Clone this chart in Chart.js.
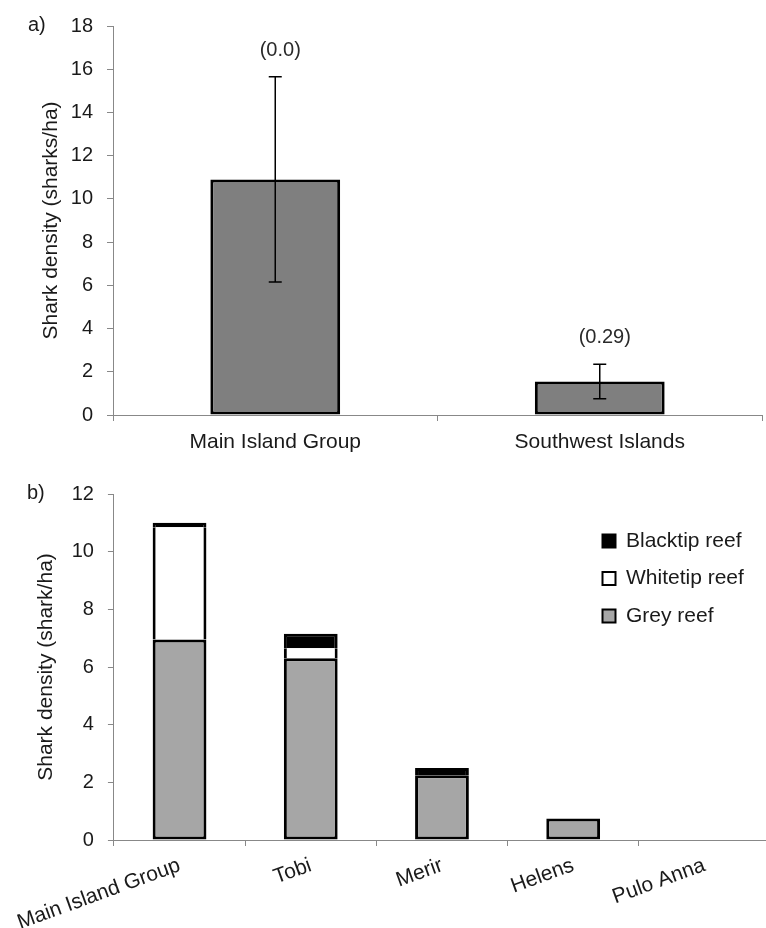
<!DOCTYPE html>
<html>
<head>
<meta charset="utf-8">
<script src="https://cdn.jsdelivr.net/npm/chart.js@4.4.1/dist/chart.umd.min.js"></script>
<style>
  html, body { margin: 0; padding: 0; background: #fff; overflow: hidden; }
  body { width: 766px; height: 928px; position: relative; font-family: "Liberation Sans", Arial, sans-serif; }
  canvas { position: absolute; left: 0; }
  #chartA { top: 0; }
  #chartB { top: 460px; }
  .panel { position: absolute; font-size: 20px; line-height: 20px; color: #1a1a1a; }
</style>
</head>
<body>
<canvas id="chartA" width="766" height="460"></canvas>
<canvas id="chartB" width="772" height="468"></canvas>
<div class="panel" style="left:28px; top:14px;">a)</div>
<div class="panel" style="left:27px; top:482px;">b)</div>
<script>
// panel a) - mean density per region, with error and the note above each bar
const regions = ["Main Island Group", "Southwest Islands"];
const regionDensity = [10.9, 1.55];
const regionError = [4.75, 0.8];
const regionNotes = ["(0.0)", "(0.29)"];
const ticksA = [0, 2, 4, 6, 8, 10, 12, 14, 16, 18];

// panel b) - density per site, split by species
const sites = ["Main Island Group", "Tobi", "Merir", "Helens", "Pulo Anna"];
const greyReef = [6.95, 6.3, 2.25, 0.75, 0];
const whitetipReef = [3.9, 0.35, 0, 0, 0];
const blacktipReef = [0.15, 0.5, 0.25, 0, 0];
const ticksB = [0, 2, 4, 6, 8, 10, 12];

Chart.defaults.font.family = '"Liberation Sans", Arial, sans-serif';
Chart.defaults.color = '#1a1a1a';

var axisGrey = '#888';

// error bars and the numbers above them
const errorBars = {
    id: 'errorBars',
    afterDatasetsDraw(chart) {
        const ctx = chart.ctx;
        const y = chart.scales.y;
        const meta = chart.getDatasetMeta(0);
        const cap = 6.5;
        ctx.save();
        ctx.strokeStyle = '#000';
        ctx.lineWidth = 1.5;
        ctx.fillStyle = '#2a2a2a';
        ctx.font = '20px "Liberation Sans", Arial, sans-serif';
        ctx.textAlign = 'center';
        meta.data.forEach((bar, i) => {
            const top = y.getPixelForValue(regionDensity[i] + regionError[i]);
            const bottom = y.getPixelForValue(regionDensity[i] - regionError[i]);
            ctx.beginPath();
            ctx.moveTo(bar.x, top); ctx.lineTo(bar.x, bottom);
            ctx.moveTo(bar.x - cap, top); ctx.lineTo(bar.x + cap, top);
            ctx.moveTo(bar.x - cap, bottom); ctx.lineTo(bar.x + cap, bottom);
            ctx.stroke();
            ctx.fillText(regionNotes[i], bar.x + 5, top - 21);
        });
        ctx.restore();
    }
};

// move the legend box to the upper right of the plot
const legendSpot = {
    id: 'legendSpot',
    afterLayout(chart) {
        const lg = chart.legend;
        const area = chart.chartArea;
        lg.left = area.right - 184;
        lg.right = lg.left + lg.width;
        lg.top = area.top + 20;
        lg.bottom = lg.top + lg.height;
    }
};

function yAxis(ticks, title, titlePad) {
    return {
        min: ticks[0],
        max: ticks[ticks.length - 1],
        afterBuildTicks: s => { s.ticks = ticks.map(v => ({ value: v })); },
        grid: { drawOnChartArea: false, tickLength: 6, color: axisGrey },
        border: { color: axisGrey },
        ticks: { font: { size: 20 }, padding: 14 },
        title: { display: true, text: title, font: { size: 21 }, padding: { top: titlePad, bottom: 0 } },
        afterFit: s => { s.width = 113; }
    };
}

new Chart(document.getElementById('chartA'), {
    type: 'bar',
    data: {
        labels: regions,
        datasets: [{
            label: 'Shark density',
            data: regionDensity,
            backgroundColor: '#7f7f7f',
            borderColor: '#000',
            borderWidth: 3,
            borderSkipped: false,
            barPercentage: 0.4,
            categoryPercentage: 1
        }]
    },
    options: {
        responsive: false,
        animation: false,
        devicePixelRatio: 1,
        layout: { padding: { left: 0, top: 24, right: 4, bottom: 0 } },
        plugins: { legend: { display: false }, tooltip: { enabled: false } },
        scales: {
            x: {
                grid: { drawOnChartArea: false, tickLength: 6, color: axisGrey, offset: true },
                border: { color: axisGrey },
                ticks: { font: { size: 21 }, padding: 9, maxRotation: 0 },
                afterFit: s => { s.height = 45; }
            },
            y: yAxis(ticksA, 'Shark density (sharks/ha)', 39)
        }
    },
    plugins: [errorBars]
});

new Chart(document.getElementById('chartB'), {
    type: 'bar',
    data: {
        labels: sites,
        datasets: [{
            label: 'Grey reef',
            data: greyReef,
            backgroundColor: '#a6a6a6',
            borderColor: '#000',
            borderWidth: 3,
            borderSkipped: false
        }, {
            label: 'Whitetip reef',
            data: whitetipReef,
            backgroundColor: '#fff',
            borderColor: '#000',
            borderWidth: { left: 3, right: 3, top: 0, bottom: 0 },
            borderSkipped: false
        }, {
            label: 'Blacktip reef',
            data: blacktipReef,
            backgroundColor: '#000',
            borderColor: '#000',
            borderWidth: { left: 3, right: 3, top: 3, bottom: 0 },
            borderSkipped: false
        }]
    },
    options: {
        responsive: false,
        animation: false,
        devicePixelRatio: 1,
        barPercentage: 0.41,
        categoryPercentage: 1,
        layout: { padding: { left: 0, top: 34, right: 2, bottom: 0 } },
        plugins: {
            tooltip: { enabled: false },
            legend: {
                position: 'chartArea',
                align: 'start',
                reverse: true,
                labels: {
                    boxWidth: 13,
                    boxHeight: 13,
                    padding: 16.5,
                    font: { size: 21 },
                    color: '#1a1a1a',
                    generateLabels: chart => Chart.defaults.plugins.legend.labels.generateLabels(chart)
                        .map(item => Object.assign(item, { lineWidth: 2, strokeStyle: '#000' }))
                }
            }
        },
        scales: {
            x: {
                stacked: true,
                grid: { drawOnChartArea: false, tickLength: 6, color: axisGrey, offset: true },
                border: { color: axisGrey },
                ticks: { font: { size: 21 }, minRotation: 20, maxRotation: 20, padding: 7, autoSkip: false },
                afterFit: s => { s.height = 88; }
            },
            y: Object.assign(yAxis(ticksB, 'Shark density (shark/ha)', 33), { stacked: true })
        }
    },
    plugins: [legendSpot]
});
</script>
</body>
</html>
